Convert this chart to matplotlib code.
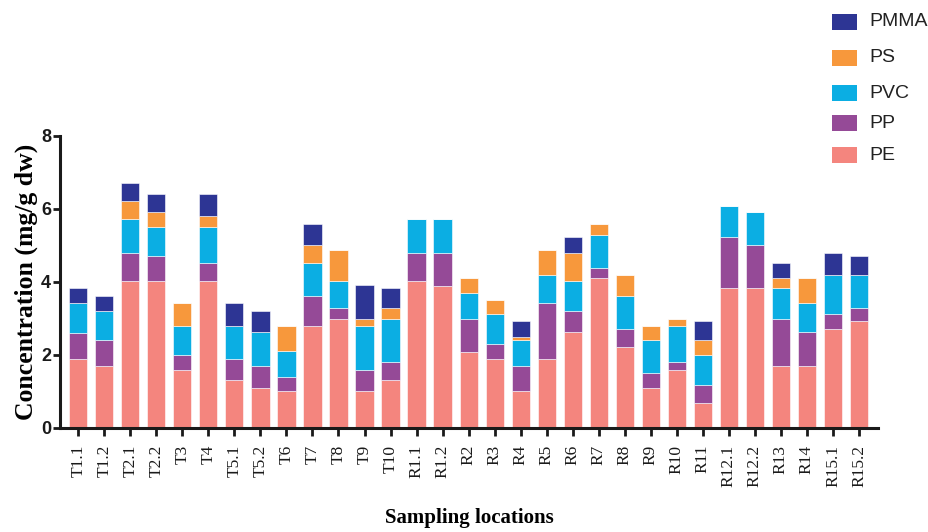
import matplotlib
matplotlib.use("Agg")
import matplotlib.pyplot as plt
from matplotlib.patches import Rectangle
import numpy as np

locations = ["T1.1", "T1.2", "T2.1", "T2.2", "T3", "T4", "T5.1", "T5.2", "T6", "T7",
             "T8", "T9", "T10", "R1.1", "R1.2", "R2", "R3", "R4", "R5", "R6", "R7",
             "R8", "R9", "R10", "R11", "R12.1", "R12.2", "R13", "R14", "R15.1", "R15.2"]

PE = [1.89, 1.71, 4.02, 4.02, 1.59, 4.02, 1.31, 1.10, 1.02, 2.79, 2.99, 1.02, 1.31,
      4.02, 3.90, 2.09, 1.89, 1.02, 1.89, 2.62, 4.10, 2.21, 1.10, 1.59, 0.69, 3.82,
      3.82, 1.71, 1.71, 2.71, 2.92]
PP = [0.70, 0.71, 0.78, 0.70, 0.41, 0.49, 0.58, 0.61, 0.37, 0.83, 0.29, 0.58, 0.49,
      0.78, 0.90, 0.90, 0.40, 0.69, 1.52, 0.58, 0.29, 0.50, 0.41, 0.21, 0.49, 1.40,
      1.19, 1.28, 0.91, 0.41, 0.36]
PVC = [0.82, 0.78, 0.91, 0.78, 0.79, 0.99, 0.90, 0.91, 0.71, 0.89, 0.74, 1.19, 1.19,
       0.91, 0.91, 0.71, 0.83, 0.71, 0.77, 0.82, 0.90, 0.91, 0.89, 0.99, 0.82, 0.86,
       0.90, 0.83, 0.79, 1.06, 0.90]
PS = [0.0, 0.0, 0.49, 0.41, 0.63, 0.29, 0.0, 0.0, 0.69, 0.49, 0.86, 0.20, 0.29,
      0.0, 0.0, 0.40, 0.37, 0.08, 0.70, 0.78, 0.29, 0.56, 0.39, 0.20, 0.41, 0.0,
      0.0, 0.28, 0.69, 0.0, 0.0]
PMMA = [0.41, 0.42, 0.51, 0.50, 0.0, 0.62, 0.63, 0.58, 0.0, 0.58, 0.0, 0.92, 0.54,
        0.0, 0.0, 0.0, 0.0, 0.42, 0.0, 0.42, 0.0, 0.0, 0.0, 0.0, 0.51, 0.0,
        0.0, 0.41, 0.0, 0.62, 0.54]

series_names = ["PE", "PP", "PVC", "PS", "PMMA"]
series_values = [PE, PP, PVC, PS, PMMA]
colors = ["#F4857E", "#954A97", "#0BAEE3", "#F7983C", "#2D3594"]

yticks = [0, 2, 4, 6, 8]

SERIF = ["Liberation Serif", "DejaVu Serif"]
SANS = ["Liberation Sans", "DejaVu Sans"]

fig = plt.figure(figsize=(9.29, 5.32), dpi=100)
ax = fig.add_axes([60 / 929, 1 - 428 / 532, (878 - 60) / 929, (428 - 135.7) / 532])

x = np.arange(len(locations))
bottom = np.zeros(len(locations))
for name, vals, c in zip(series_names, series_values, colors):
    v = np.array(vals)
    ax.bar(x, v, width=0.7, bottom=bottom, color=c, edgecolor="#ffffff",
           linewidth=0.4, label=name, zorder=2)
    bottom += v

ax.set_xlim(-0.7, len(locations) - 1 + 0.73)
ax.set_ylim(0, 8)
ax.set_yticks(yticks)
ax.set_yticklabels([str(t) for t in yticks], fontfamily=SANS, fontweight="bold", fontsize=13)
ax.set_xticks(x)
ax.set_xticklabels(locations, rotation=90, fontfamily=SERIF, fontsize=12.5, va="top", ha="center")

for s in ["top", "right"]:
    ax.spines[s].set_visible(False)
for s in ["left", "bottom"]:
    ax.spines[s].set_linewidth(2.2)
    ax.spines[s].set_color("#1a1a1a")
ax.tick_params(axis="y", length=5, width=2, pad=1.5, colors="#1a1a1a")
ax.tick_params(axis="x", length=6, width=2, pad=6, colors="#1a1a1a")
ax.spines["left"].set_bounds(0, 8)

fig.text(26 / 929, 1 - 282 / 532, "Concentration (mg/g dw)", rotation=90,
         ha="center", va="center", fontfamily=SERIF, fontweight="bold", fontsize=18.5)
fig.text(469 / 929, 1 - 518 / 532, "Sampling locations", ha="center", va="center",
         fontfamily=SERIF, fontweight="bold", fontsize=15)

# legend (top to bottom: PMMA, PS, PVC, PP, PE)
leg_y = [22, 58, 93, 123, 155]
for yy, name, c in zip(leg_y, series_names[::-1], colors[::-1]):
    fig.patches.append(Rectangle((832 / 929, 1 - (yy + 8) / 532), 25 / 929, 16 / 532,
                                 transform=fig.transFigure, facecolor=c, edgecolor="none"))
    fig.text(869 / 929, 1 - yy / 532, name, ha="left", va="center",
             fontfamily=SANS, fontsize=14, color="#222222")

fig.savefig("out.png", dpi=100)
